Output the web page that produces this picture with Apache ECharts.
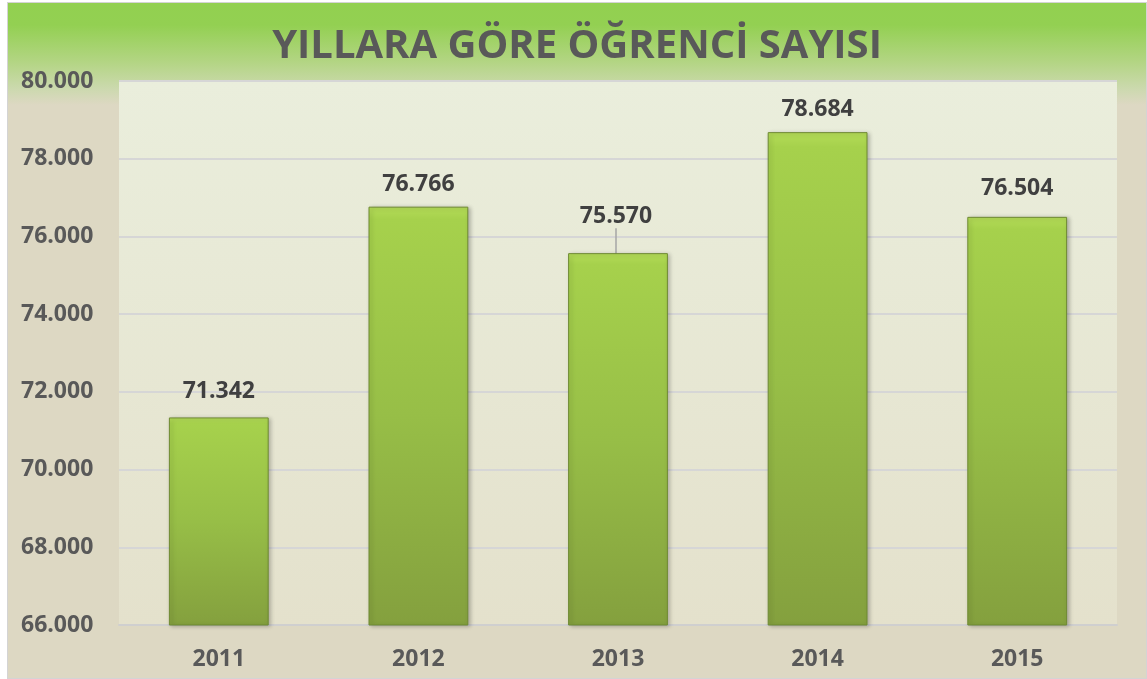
<!DOCTYPE html>
<html>
<head>
<meta charset="utf-8">
<script src="https://cdn.jsdelivr.net/npm/echarts@6/dist/echarts.min.js"></script>
<style>
  html, body { margin: 0; padding: 0; background: #ffffff; }
  #main {
    position: absolute; left: 7px; top: 2px;
    width: 1140px; height: 677px; box-sizing: border-box;
    border: 1px solid #d4d4d4;
    background: linear-gradient(to bottom, #92d050 0px, #93d052 22px, #b4d585 60px, #cbd9ad 85px, #ddd8c3 102px, #ddd8c3 100%);
  }
</style>
</head>
<body>
<div id="main"></div>
<script>
// ===================== data =====================
const years = ['2011', '2012', '2013', '2014', '2015']
const students = [71342, 76766, 75570, 78684, 76504]
const yTicks = [66000, 68000, 70000, 72000, 74000, 76000, 78000, 80000]

const fmt = (v) => String(v).replace(/\B(?=(\d{3})+(?!\d))/g, '.')
const fontFam = '"Open Sans", "Noto Sans", sans-serif'
const textColor = '#595959'

// ===================== init =====================
const myChart = echarts.init(document.getElementById('main'))
const option = {
  title: {
    text: 'YILLARA GÖRE ÖĞRENCİ SAYISI',
    left: 'center',
    top: 19,
    textStyle: {
      color: textColor,
      fontSize: 40,
      fontWeight: 'bold',
      fontFamily: fontFam,
    },
  },
  grid: {
    left: 111,
    right: 29,
    top: 78,
    bottom: 53,
    show: true,
    borderWidth: 0,
    backgroundColor: new echarts.graphic.LinearGradient(0, 0, 0, 1, [
      { offset: 0, color: '#eaeedc' },
      { offset: 1, color: '#e4e1cc' },
    ]),
  },
  xAxis: {
    type: 'category',
    data: years,
    axisTick: { show: false },
    axisLine: { show: true, lineStyle: { color: '#cfcfcf', width: 2 } },
    axisLabel: {
      color: textColor,
      fontSize: 23,
      fontWeight: 'bold',
      fontFamily: fontFam,
      margin: 23,
    },
  },
  yAxis: {
    type: 'value',
    min: yTicks[0],
    max: yTicks[yTicks.length - 1],
    interval: yTicks[1] - yTicks[0],
    axisLine: { show: false },
    axisTick: { show: false },
    splitLine: { lineStyle: { color: '#d6d6d6', width: 2 } },
    axisLabel: {
      align: 'left',
      margin: 98,
      color: textColor,
      fontSize: 23,
      fontWeight: 'bold',
      fontFamily: fontFam,
      formatter: (v) => fmt(v),
    },
  },
  series: [
    {
      type: 'bar',
      barWidth: '50%',
      data: students.map((v, i) => ({
        value: v,
        labelLine: { show: i === 2 },
      })),
      itemStyle: {
        color: new echarts.graphic.LinearGradient(0, 0, 0, 1, [
          { offset: 0, color: '#b4dc58' },
          { offset: 0.03, color: '#a6d14c' },
          { offset: 0.5, color: '#97be47' },
          { offset: 1, color: '#84a03e' },
        ]),
        borderColor: '#6f8a33',
        borderWidth: 1,
        shadowColor: 'rgba(0,0,0,0.25)',
        shadowBlur: 4,
        shadowOffsetX: 2,
        shadowOffsetY: 1,
      },
      label: {
        show: true,
        position: 'top',
        distance: 11,
        color: '#404040',
        fontSize: 23,
        fontWeight: 'bold',
        fontFamily: fontFam,
        formatter: (p) => fmt(p.value),
      },
      labelLine: {
        lineStyle: { color: '#a6a6a6', width: 1.5 },
      },
      labelLayout: (params) => {
        if (params.dataIndex === 2) return { dy: -14, dx: -2 }
        if (params.dataIndex === 4) return { dy: -6 }
        if (params.dataIndex === 0) return { dy: -3 }
        return {}
      },
    },
  ],
}
myChart.setOption(option)
</script>
</body>
</html>
